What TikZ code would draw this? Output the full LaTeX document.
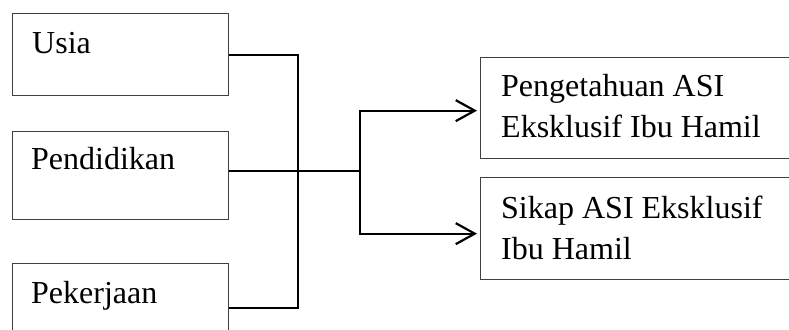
\documentclass[tikz,border=0pt]{standalone}
\usepackage{fontspec}
\setmainfont{Liberation Serif}
\usetikzlibrary{arrows.meta}
\begin{document}
\begin{tikzpicture}[x=1pt,y=-1pt,
  box/.style={draw=black!75,line width=1.3pt,rectangle,inner sep=0pt,anchor=north west},
  lbl/.style={anchor=base west,inner sep=0pt,align=left,font=\fontsize{32}{41}\selectfont},
  conn/.style={line width=2.2pt,black},
  arr/.style={conn,-{Straight Barb[length=19pt,width=21pt,line width=2.2pt]},shorten >=3pt}]
\clip (0,0) rectangle (789,329);
\fill[white] (0,0) rectangle (789,329);
% left boxes
\node[box,minimum width=216pt,minimum height=82pt] (usia) at (12,13) {};
\node[box,minimum width=216pt,minimum height=88pt] (pend) at (12,131) {};
\node[box,minimum width=216pt,minimum height=88pt] (pek) at (12,263) {};
% right boxes
\node[box,minimum width=340pt,minimum height=101pt] (pa) at (480,57) {};
\node[box,minimum width=340pt,minimum height=102pt] (sa) at (480,177) {};
% texts (base anchor = baseline of last line)
\node[lbl] (tusia) at (32,53) {Usia};
\node[lbl] (tpend) at (31,169) {Pendidikan};
\node[lbl] (tpek) at (31,303) {Pekerjaan};
\node[lbl] (tpa) at (501,137) {Pengetahuan ASI\\Eksklusif Ibu Hamil};
\node[lbl] (tsa) at (501,259) {Sikap ASI Eksklusif\\Ibu Hamil};
% connectors
\coordinate (j) at (298,171);
\coordinate (s) at (360,171);
\draw[conn] (usia.east) -| (j);
\draw[conn] (pek.east) -| (j);
\draw[conn] (pend.east |- j) -- (s);
\draw[arr] (s) |- ([yshift=-2.5pt]pa.west);
\draw[arr] (s) |- ([yshift=-5pt]sa.west);
\end{tikzpicture}
\end{document}
